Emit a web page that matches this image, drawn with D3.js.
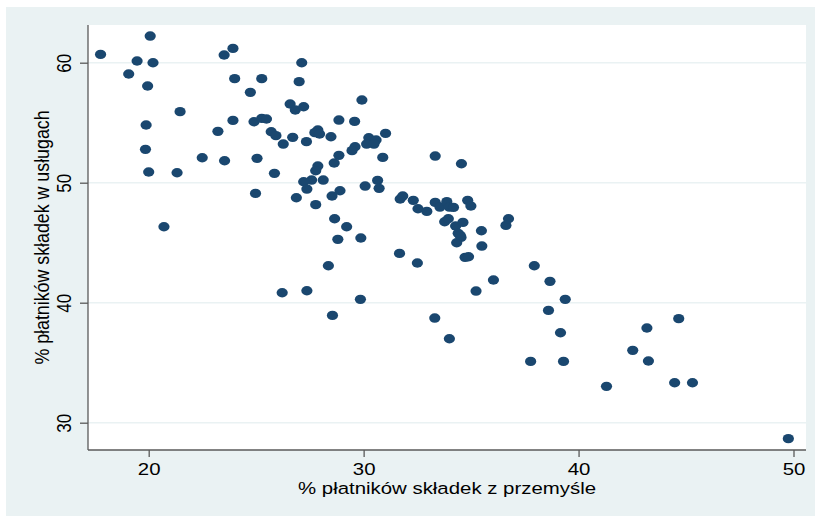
<!DOCTYPE html>
<html>
<head>
<meta charset="utf-8">
<script src="https://cdn.jsdelivr.net/npm/d3@7"></script>
<style>
  body { margin: 0; background: #ffffff; }
  text { font-family: "Liberation Sans", Arial, sans-serif; fill: #000; }
</style>
</head>
<body>
<svg id="chart" width="821" height="516"></svg>
<script>
// % of contributors in industry (x) and in services (y)
const industry = [17.76, 20.07, 19.46, 20.2, 19.07, 19.95, 23.51, 23.92, 27.12, 24.0,
  25.26, 27.0, 24.73, 29.92, 26.58, 26.82, 27.21, 21.46, 19.88, 23.92,
  24.9, 25.26, 25.48, 28.85, 29.58, 23.22, 25.7, 25.92, 26.7, 27.87,
  27.73, 27.95, 28.48, 27.34, 26.26, 30.24, 30.58, 30.14, 30.48, 31.02,
  29.6, 29.46, 19.85, 22.49, 23.53, 25.04, 28.85, 30.89, 28.63, 33.33,
  34.55, 27.87, 27.77, 20.0, 21.32, 25.85, 27.58, 27.21, 28.12, 30.65,
  30.07, 30.72, 27.36, 28.9, 24.97, 26.87, 28.53, 27.77, 31.7, 31.82,
  32.31, 32.53, 32.94, 33.33, 33.55, 33.87, 33.99, 34.18, 34.84, 34.99,
  33.77, 33.94, 34.28, 34.62, 34.4, 34.53, 34.33, 34.72, 35.48, 35.5,
  36.62, 36.74, 28.65, 29.21, 20.71, 28.8, 29.87, 31.67, 32.5, 28.36,
  37.94, 36.04, 38.67, 35.23, 26.21, 27.36, 29.85, 39.38, 38.6, 28.55,
  33.31, 44.66, 43.18, 39.16, 33.99, 42.52, 37.77, 39.3, 43.25, 41.3,
  44.47, 45.3, 49.76, 34.5, 34.88];
const services = [60.69, 62.22, 60.14, 60.0, 59.06, 58.06, 60.64, 61.19, 60.0, 58.67,
  58.67, 58.42, 57.53, 56.89, 56.56, 56.06, 56.33, 55.92, 54.81, 55.19,
  55.08, 55.36, 55.31, 55.22, 55.11, 54.28, 54.25, 53.92, 53.78, 54.39,
  54.17, 54.06, 53.83, 53.42, 53.22, 53.75, 53.56, 53.22, 53.22, 54.11,
  53.0, 52.67, 52.78, 52.08, 51.83, 52.03, 52.28, 52.11, 51.64, 52.22,
  51.58, 51.39, 51.0, 50.89, 50.83, 50.78, 50.22, 50.08, 50.22, 50.19,
  49.72, 49.53, 49.47, 49.33, 49.11, 48.75, 48.89, 48.17, 48.64, 48.89,
  48.53, 47.83, 47.61, 48.36, 47.97, 48.42, 47.97, 47.94, 48.53, 48.06,
  46.75, 47.0, 46.39, 46.69, 45.78, 45.44, 45.0, 43.78, 46.0, 44.72,
  46.44, 47.0, 47.0, 46.33, 46.33, 45.28, 45.39, 44.11, 43.31, 43.08,
  43.08, 41.89, 41.78, 40.97, 40.83, 41.0, 40.28, 40.28, 39.36, 38.94,
  38.72, 38.67, 37.89, 37.5, 37.0, 36.03, 35.11, 35.11, 35.14, 33.03,
  33.33, 33.33, 28.67, 45.6, 43.83];

const xTicks = [20, 30, 40, 50];
const yTicks = [30, 40, 50, 60];
const xTitle = "% płatników składek z przemyśle";
const yTitle = "% płatników składek w usługach";

// the original picture is stretched horizontally, text and markers too
const stretch = 1.2;

const plot = { left: 88, right: 806, top: 25, bottom: 450 };

const svg = d3.select("#chart");

// outer frame
svg.append("rect")
  .attr("x", 6).attr("y", 7).attr("width", 809).attr("height", 509)
  .attr("fill", "#eaf2f3");

svg.append("rect")
  .attr("x", plot.left).attr("y", plot.top)
  .attr("width", plot.right - plot.left).attr("height", plot.bottom - plot.top)
  .attr("fill", "#ffffff");

const x = d3.scaleLinear().domain([20, 50]).range([148.7, 793.5]);
const y = d3.scaleLinear().domain([30, 60]).range([422.7, 62.7]);

// grid lines
svg.append("g")
  .selectAll("line")
  .data(yTicks)
  .join("line")
  .attr("x1", plot.left).attr("x2", plot.right)
  .attr("y1", d => y(d)).attr("y2", d => y(d))
  .attr("stroke", "#eaf2f3")
  .attr("stroke-width", 1.5);

// points
svg.append("g")
  .selectAll("ellipse")
  .data(industry.map((v, i) => [v, services[i]]))
  .join("ellipse")
  .attr("cx", d => x(d[0]))
  .attr("cy", d => y(d[1]))
  .attr("rx", 5.6)
  .attr("ry", 4.7)
  .attr("fill", "#1a476f");

// X axis
const xAxis = svg.append("g")
  .attr("transform", `translate(0,${plot.bottom})`)
  .call(d3.axisBottom(x).tickValues(xTicks).tickSize(7).tickPadding(0).tickFormat(d3.format("d")));
xAxis.select(".domain").attr("d", `M${plot.left},0H${plot.right}`);
xAxis.selectAll(".tick text")
  .attr("y", 25).attr("dy", 0)
  .attr("font-size", 17)
  .attr("transform", `scale(${stretch},1)`);

// Y axis
const yAxis = svg.append("g")
  .attr("transform", `translate(${plot.left},0)`)
  .call(d3.axisLeft(y).tickValues(yTicks).tickSize(8).tickFormat(d3.format("d")));
yAxis.select(".domain").attr("d", `M0,${plot.top}V${plot.bottom}`);
yAxis.selectAll(".tick text")
  .attr("x", 0).attr("dy", 0)
  .attr("text-anchor", "middle")
  .attr("font-size", 17)
  .attr("transform", `translate(-17,0) scale(${stretch},1) rotate(-90)`);

svg.selectAll(".domain, .tick line").attr("stroke", "#5a5a5a").attr("stroke-width", 1.3);

// axis titles
svg.append("text")
  .attr("text-anchor", "middle")
  .attr("font-size", 17)
  .attr("transform", `translate(${(plot.left + plot.right) / 2},494) scale(${stretch},1)`)
  .text(xTitle);

svg.append("text")
  .attr("text-anchor", "middle")
  .attr("font-size", 17.8)
  .attr("transform", `translate(49,${(plot.top + plot.bottom) / 2}) scale(1.14,1) rotate(-90)`)
  .text(yTitle);
</script>
</body>
</html>
